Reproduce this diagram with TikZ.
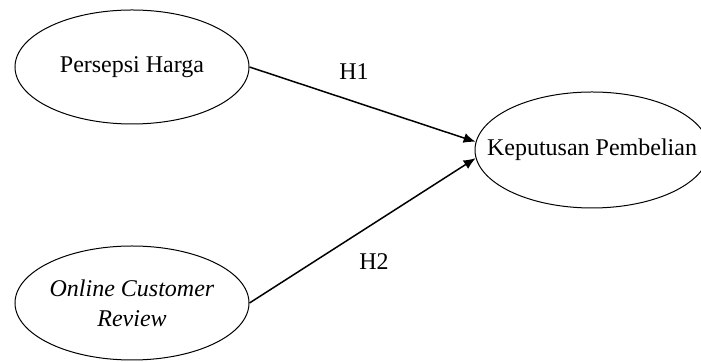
\documentclass[tikz,border=0pt]{standalone}
\usepackage{fontspec}
\setmainfont{Liberation Serif}
\usetikzlibrary{arrows.meta,shapes.geometric}

\begin{document}
\begin{tikzpicture}[x=0.5pt,y=-0.5pt,
  var/.style={ellipse,draw,line width=0.5pt,minimum width=117pt,minimum height=57pt,
    inner xsep=-15pt,inner ysep=0pt,font=\fontsize{12}{15}\selectfont,align=center},
  hyp/.style={-{Latex[length=6pt,width=5pt]},line width=0.75pt},
  lbl/.style={font=\fontsize{12}{15}\selectfont}]
\useasboundingbox (0,0) rectangle (701,362);
\clip (0,0) rectangle (701,362);

\node[var] (harga) at (132,67) {Persepsi Harga};
\node[var] (review) at (132,303) {\textit{Online Customer}\\\textit{Review}};
\node[var,minimum height=58pt] (keputusan) at (592,150) {Keputusan Pembelian};

\draw[hyp] (harga.east) -- (keputusan.176);
\draw[hyp] (review.east) -- (keputusan.184);

\node[lbl] (h1) at (354,72) {H1};
\node[lbl] (h2) at (374,262) {H2};
\end{tikzpicture}
\end{document}
